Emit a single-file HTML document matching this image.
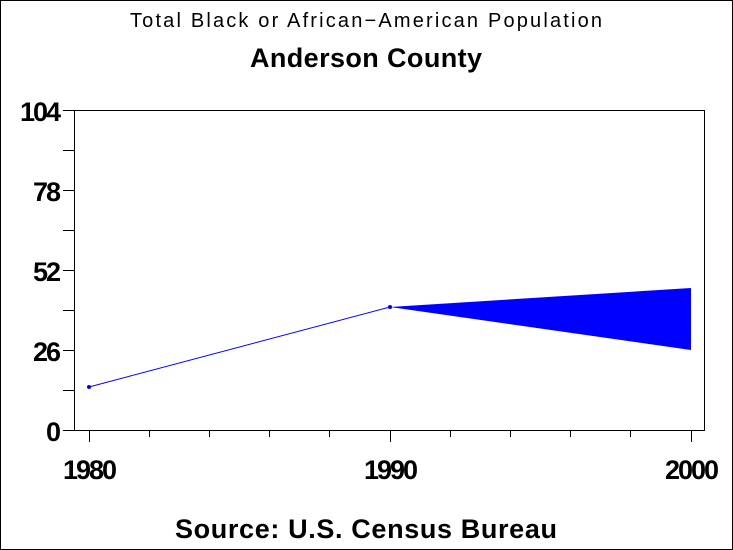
<!DOCTYPE html>
<html><head><style>
body{margin:0;background:#fff}
svg{display:block}
text{font-family:"Liberation Sans",Arial,sans-serif;fill:#000}
</style></head><body>
<svg width="733" height="550" xmlns="http://www.w3.org/2000/svg">
<rect x="0.5" y="0.5" width="732" height="549" fill="#fff" stroke="#000"/>
<text x="130" y="27" font-size="20" textLength="472" lengthAdjust="spacing">Total Black or African−American Population</text>
<text x="250" y="67" font-size="27" font-weight="bold" textLength="232" lengthAdjust="spacing">Anderson County</text>
<rect x="74.5" y="110.5" width="630" height="320" fill="none" stroke="#000"/>
<g stroke="#000" stroke-width="1">
<line x1="63" y1="110.5" x2="74" y2="110.5"/>
<line x1="63" y1="150.5" x2="74" y2="150.5"/>
<line x1="63" y1="190.5" x2="74" y2="190.5"/>
<line x1="63" y1="230.5" x2="74" y2="230.5"/>
<line x1="63" y1="270.5" x2="74" y2="270.5"/>
<line x1="63" y1="310.5" x2="74" y2="310.5"/>
<line x1="63" y1="350.5" x2="74" y2="350.5"/>
<line x1="63" y1="390.5" x2="74" y2="390.5"/>
<line x1="63" y1="430.5" x2="74" y2="430.5"/>
<line x1="89.5" y1="430" x2="89.5" y2="442"/>
<line x1="149.5" y1="430" x2="149.5" y2="437"/>
<line x1="209.5" y1="430" x2="209.5" y2="437"/>
<line x1="269.5" y1="430" x2="269.5" y2="437"/>
<line x1="329.5" y1="430" x2="329.5" y2="437"/>
<line x1="390.5" y1="430" x2="390.5" y2="442"/>
<line x1="450.5" y1="430" x2="450.5" y2="437"/>
<line x1="510.5" y1="430" x2="510.5" y2="437"/>
<line x1="570.5" y1="430" x2="570.5" y2="437"/>
<line x1="630.5" y1="430" x2="630.5" y2="437"/>
<line x1="691.5" y1="430" x2="691.5" y2="442"/>
</g>
<g font-size="27" font-weight="bold" text-anchor="end" letter-spacing="-2">
<text x="59" y="121">104</text>
<text x="59" y="201">78</text>
<text x="59" y="281">52</text>
<text x="59" y="361">26</text>
<text x="59" y="441">0</text>
</g>
<g font-size="27" font-weight="bold" text-anchor="middle" letter-spacing="-2">
<text x="89" y="479">1980</text>
<text x="390" y="479">1990</text>
<text x="691" y="479">2000</text>
</g>
<polyline points="89,387 390,307" fill="none" stroke="#00f" stroke-width="1"/>
<polygon points="390,307 691,288 691,350" fill="#00f"/>
<circle cx="89" cy="387" r="2" fill="#00f"/>
<circle cx="390" cy="307" r="2" fill="#00f"/>
<text x="175" y="538" font-size="27" font-weight="bold" textLength="382" lengthAdjust="spacing">Source: U.S. Census Bureau</text>
</svg>
</body></html>
